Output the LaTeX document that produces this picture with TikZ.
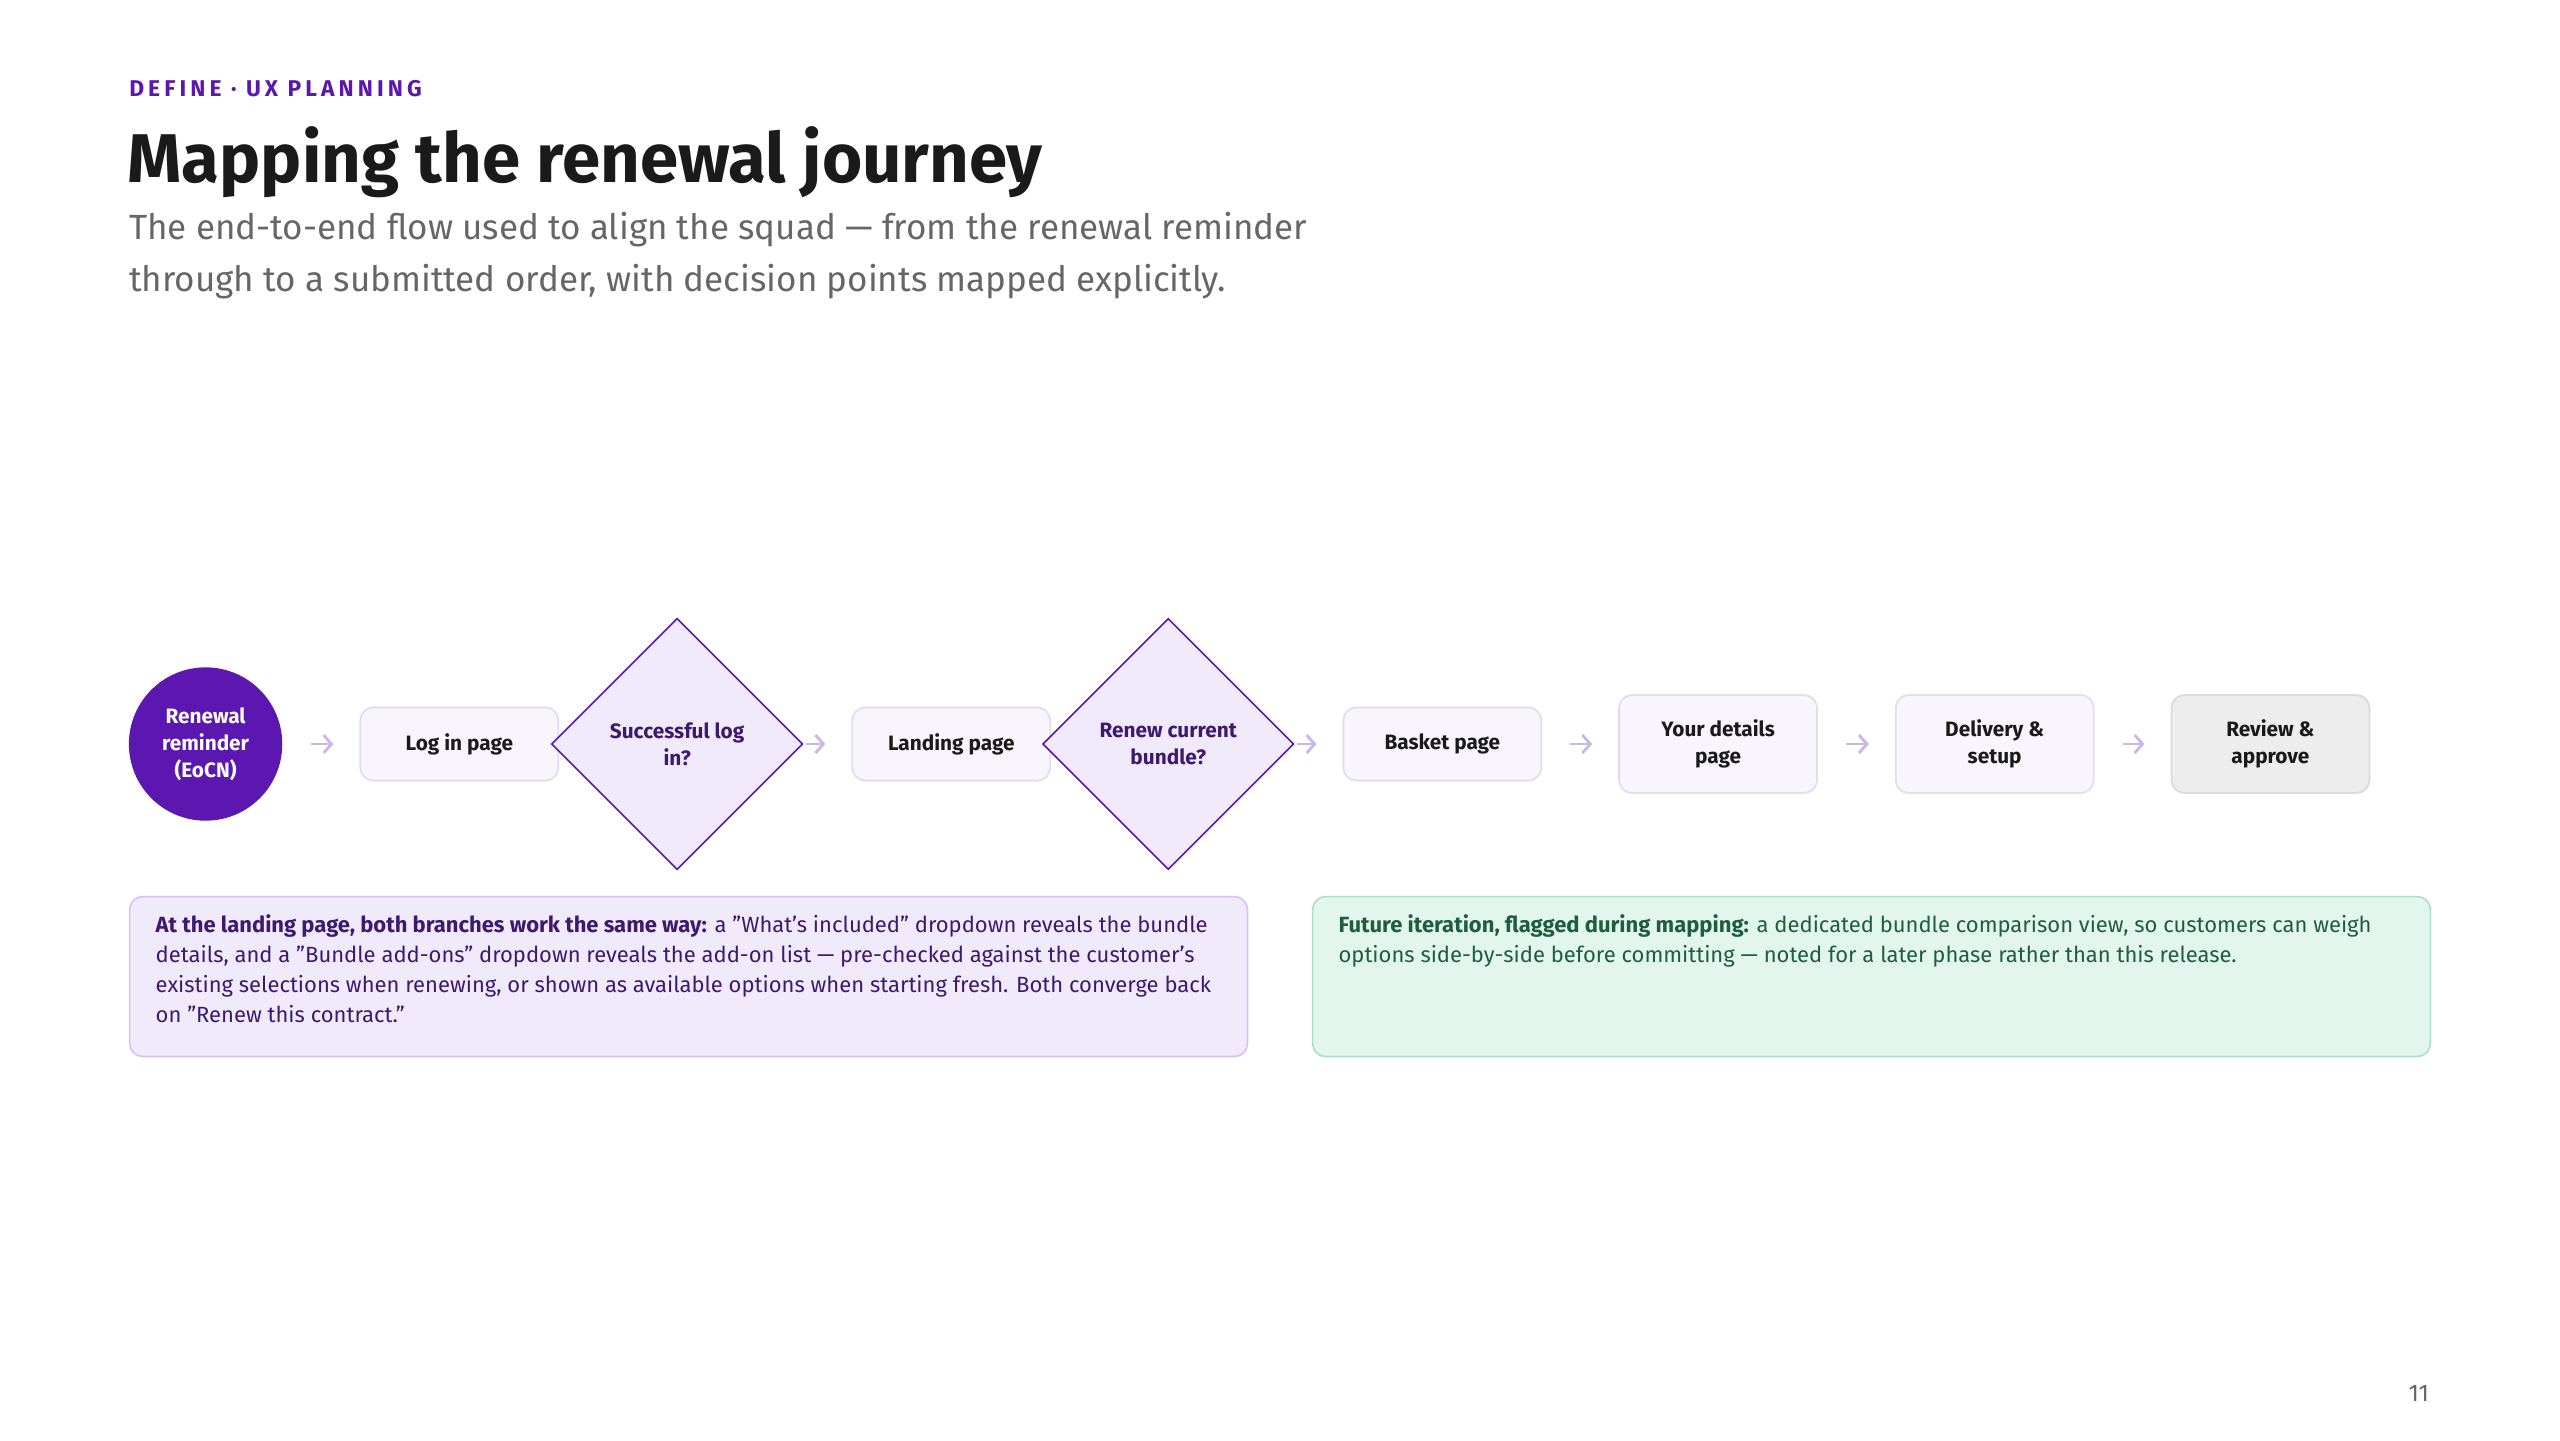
\documentclass[tikz,border=0pt]{standalone}
\usepackage{fontspec}
\setmainfont{Fira Sans}
\usetikzlibrary{shapes.geometric, arrows.meta, positioning}
\definecolor{brandpurple}{HTML}{5B17B0}
\definecolor{inkdark}{HTML}{1A1A1A}
\definecolor{inkgray}{HTML}{666666}
\definecolor{pagefill}{HTML}{F8F6FC}
\definecolor{pageline}{HTML}{E3DCF0}
\definecolor{decfill}{HTML}{F1EAFB}
\definecolor{arrowcol}{HTML}{C9B8E6}
\definecolor{notefill}{HTML}{F1EAFB}
\definecolor{noteline}{HTML}{D4C3F0}
\definecolor{notetext}{HTML}{3B1A70}
\definecolor{greenfill}{HTML}{E3F6EE}
\definecolor{greenline}{HTML}{A9E0C8}
\definecolor{greentext}{HTML}{1E5E40}
\newcommand{\notebody}[1]{%
  \begin{minipage}[c][80pt][t]{559pt}\vspace*{9pt}%
  \raggedright\leftskip=13pt\rightskip=12pt plus 1fil\hyphenpenalty=10000
  #1\end{minipage}}
\tikzset{
  base/.style = {
    font=\fontsize{10.4}{13.5}\selectfont\bfseries, text centered, align=center
  },
  start/.style = {
    base, circle, fill=brandpurple, text=white, minimum size=76.7pt, inner sep=0pt
  },
  page/.style = {
    base, draw=pageline, line width=0.9pt, fill=pagefill, text=inkdark,
    rounded corners=6.5pt, minimum width=99pt, minimum height=36.6pt
  },
  tallpage/.style = {
    page, minimum height=49pt
  },
  final/.style = {
    tallpage, fill=black!7, draw=black!14
  },
  decision/.style = {
    base, diamond, aspect=1, draw=brandpurple, line width=0.8pt, fill=decfill,
    text=notetext, minimum width=125.7pt, minimum height=125.7pt, inner sep=0pt
  },
  note/.style = {
    draw, line width=0.8pt, rounded corners=6.5pt, anchor=north west,
    font=\fontsize{11}{15}\selectfont, inner sep=0pt
  },
  arrow/.style = {
    arrowcol, line width=1.4pt, -{Straight Barb[length=4pt, width=9pt]},
    shorten <=#1, shorten >=13pt
  },
  arrow/.default = 14pt
}
\begin{document}
\begin{tikzpicture}[x=0.816pt, y=-0.816pt]
  \useasboundingbox[fill=white] (0,0) rectangle (1569,883);

  % Header
  \node[anchor=base west, inner sep=0pt, text=brandpurple,
    font=\fontsize{11.4}{13}\selectfont\bfseries\addfontfeatures{LetterSpace=18}]
    (kicker) at (79,59) {DEFINE · UX PLANNING};
  \node[anchor=base west, inner sep=0pt, text=inkdark,
    font=\fontsize{34.5}{40}\selectfont\bfseries] (title) at (78,112)
    {Mapping the renewal journey};
  \node[anchor=north west, inner sep=0pt, text=inkgray, align=left,
    font=\fontsize{17.5}{26}\selectfont] (subtitle) at (79,130)
    {The end-to-end flow used to align the squad — from the renewal reminder\\
     through to a submitted order, with decision points mapped explicitly.};

  % Flow
  \node[start] (reminder) at (126,456) {Renewal\\reminder\\(EoCN)};
  \node[page] (login) at (281.5,456) {Log in page};
  \node[decision] (loggedin) at (415,456) {Successful log\\in?};
  \node[page] (landing) at (583,456) {Landing page};
  \node[decision] (renewbundle) at (716,456) {Renew current\\bundle?};
  \node[page] (basket) at (884,456) {Basket page};
  \node[tallpage] (details) at (1053,456) {Your details\\page};
  \node[tallpage] (delivery) at (1222.5,456) {Delivery \&\\setup};
  \node[final] (review) at (1391.5,456) {Review \&\\approve};

  % Arrows
  \draw[arrow] (reminder) -- (login);
  \draw[arrow=1pt] (loggedin) -- (landing);
  \draw[arrow=1pt] (renewbundle) -- (basket);
  \draw[arrow] (basket) -- (details);
  \draw[arrow] (details) -- (delivery);
  \draw[arrow] (delivery) -- (review);

  % Notes
  \node[note, draw=noteline, fill=notefill, text=notetext] (branchnote) at (79,549)
    {\notebody{\textbf{At the landing page, both branches work the same way:} a "What's included" dropdown reveals the bundle details, and a "Bundle add-ons" dropdown reveals the add-on list — pre-checked against the customer's existing selections when renewing, or shown as available options when starting fresh. Both converge back on "Renew this contract."}};
  \node[note, draw=greenline, fill=greenfill, text=greentext] (futurenote) at (804,549)
    {\notebody{\textbf{Future iteration, flagged during mapping:} a dedicated bundle comparison view, so customers can weigh options side-by-side before committing — noted for a later phase rather than this release.}};

  % Page number
  \node[anchor=base east, inner sep=0pt, text=inkgray,
    font=\fontsize{12}{14}\selectfont] (pagenum) at (1489,859) {11};
\end{tikzpicture}
\end{document}
